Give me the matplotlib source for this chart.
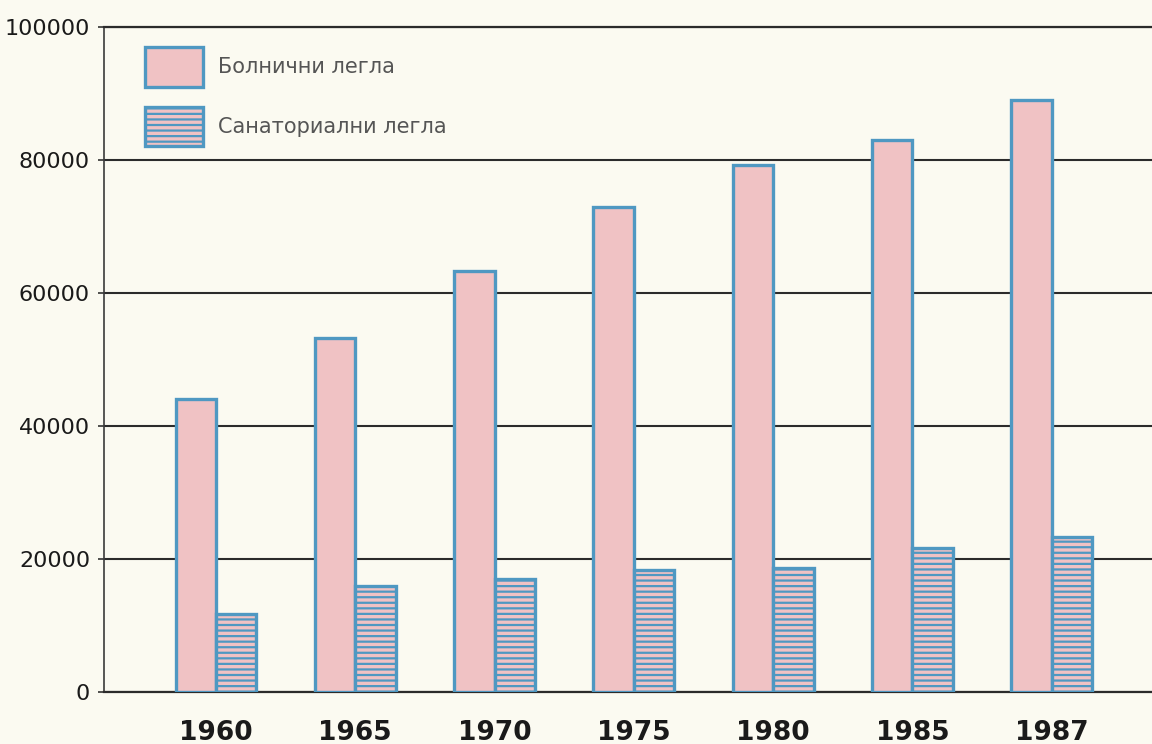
import matplotlib
matplotlib.use("Agg")
import matplotlib.pyplot as plt
import numpy as np

years = ["1960", "1965", "1970", "1975", "1980", "1985", "1987"]
hospital_beds = [44000, 53200, 63300, 72900, 79200, 83000, 89000]
sanatorium_beds = [11700, 16000, 17000, 18300, 18600, 21600, 23300]
series_labels = ["Болнични легла", "Санаториални легла"]
y_ticks = [0, 20000, 40000, 60000, 80000, 100000]

bg = "#fbfaf1"
pink = "#f0c2c4"
blue = "#4f98c2"

plt.rcParams["hatch.linewidth"] = 1.6

fig = plt.figure(figsize=(11.52, 7.44), dpi=100, facecolor=bg)
ax = fig.add_axes([104 / 1152, 52 / 744, 1 - 104 / 1152, 665 / 744])
ax.set_facecolor(bg)

x = np.arange(len(years))
w = 0.29
b1 = ax.bar(x - w / 2, hospital_beds, width=w, color=pink, edgecolor=blue,
            linewidth=2.4, label=series_labels[0], zorder=3)
b2 = ax.bar(x + w / 2, sanatorium_beds, width=w, color=pink, edgecolor=blue,
            linewidth=2.4, hatch="---", label=series_labels[1], zorder=3)

ax.set_xlim(-0.804, 6.72)
ax.set_ylim(0, 100000)
ax.set_yticks(y_ticks)
ax.set_yticklabels([str(v) for v in y_ticks], fontsize=16, color="#1a1a1a")
ax.set_xticks(x)
ax.set_xticklabels(years, fontsize=19, fontweight="bold", color="#1a1a1a")
ax.tick_params(axis="x", length=0, pad=20)
ax.tick_params(axis="y", length=4, width=1.2, color="#333333", pad=6)

ax.set_axisbelow(True)
ax.yaxis.grid(True, color="#2b2b2b", linewidth=1.5)
for s in ["top", "bottom"]:
    ax.spines[s].set_color("#2b2b2b")
    ax.spines[s].set_linewidth(1.6)
ax.spines["left"].set_color("#3a3a3a")
ax.spines["left"].set_linewidth(1.2)
ax.spines["right"].set_visible(False)

leg = ax.legend(loc="upper left", bbox_to_anchor=(0.039, 0.970), frameon=False,
                fontsize=15, handlelength=2.78, handleheight=2.55, labelspacing=0.96,
                borderpad=0, borderaxespad=0, handletextpad=0.75)
for t in leg.get_texts():
    t.set_color("#555555")

fig.savefig("out.png", dpi=100, facecolor=bg)
